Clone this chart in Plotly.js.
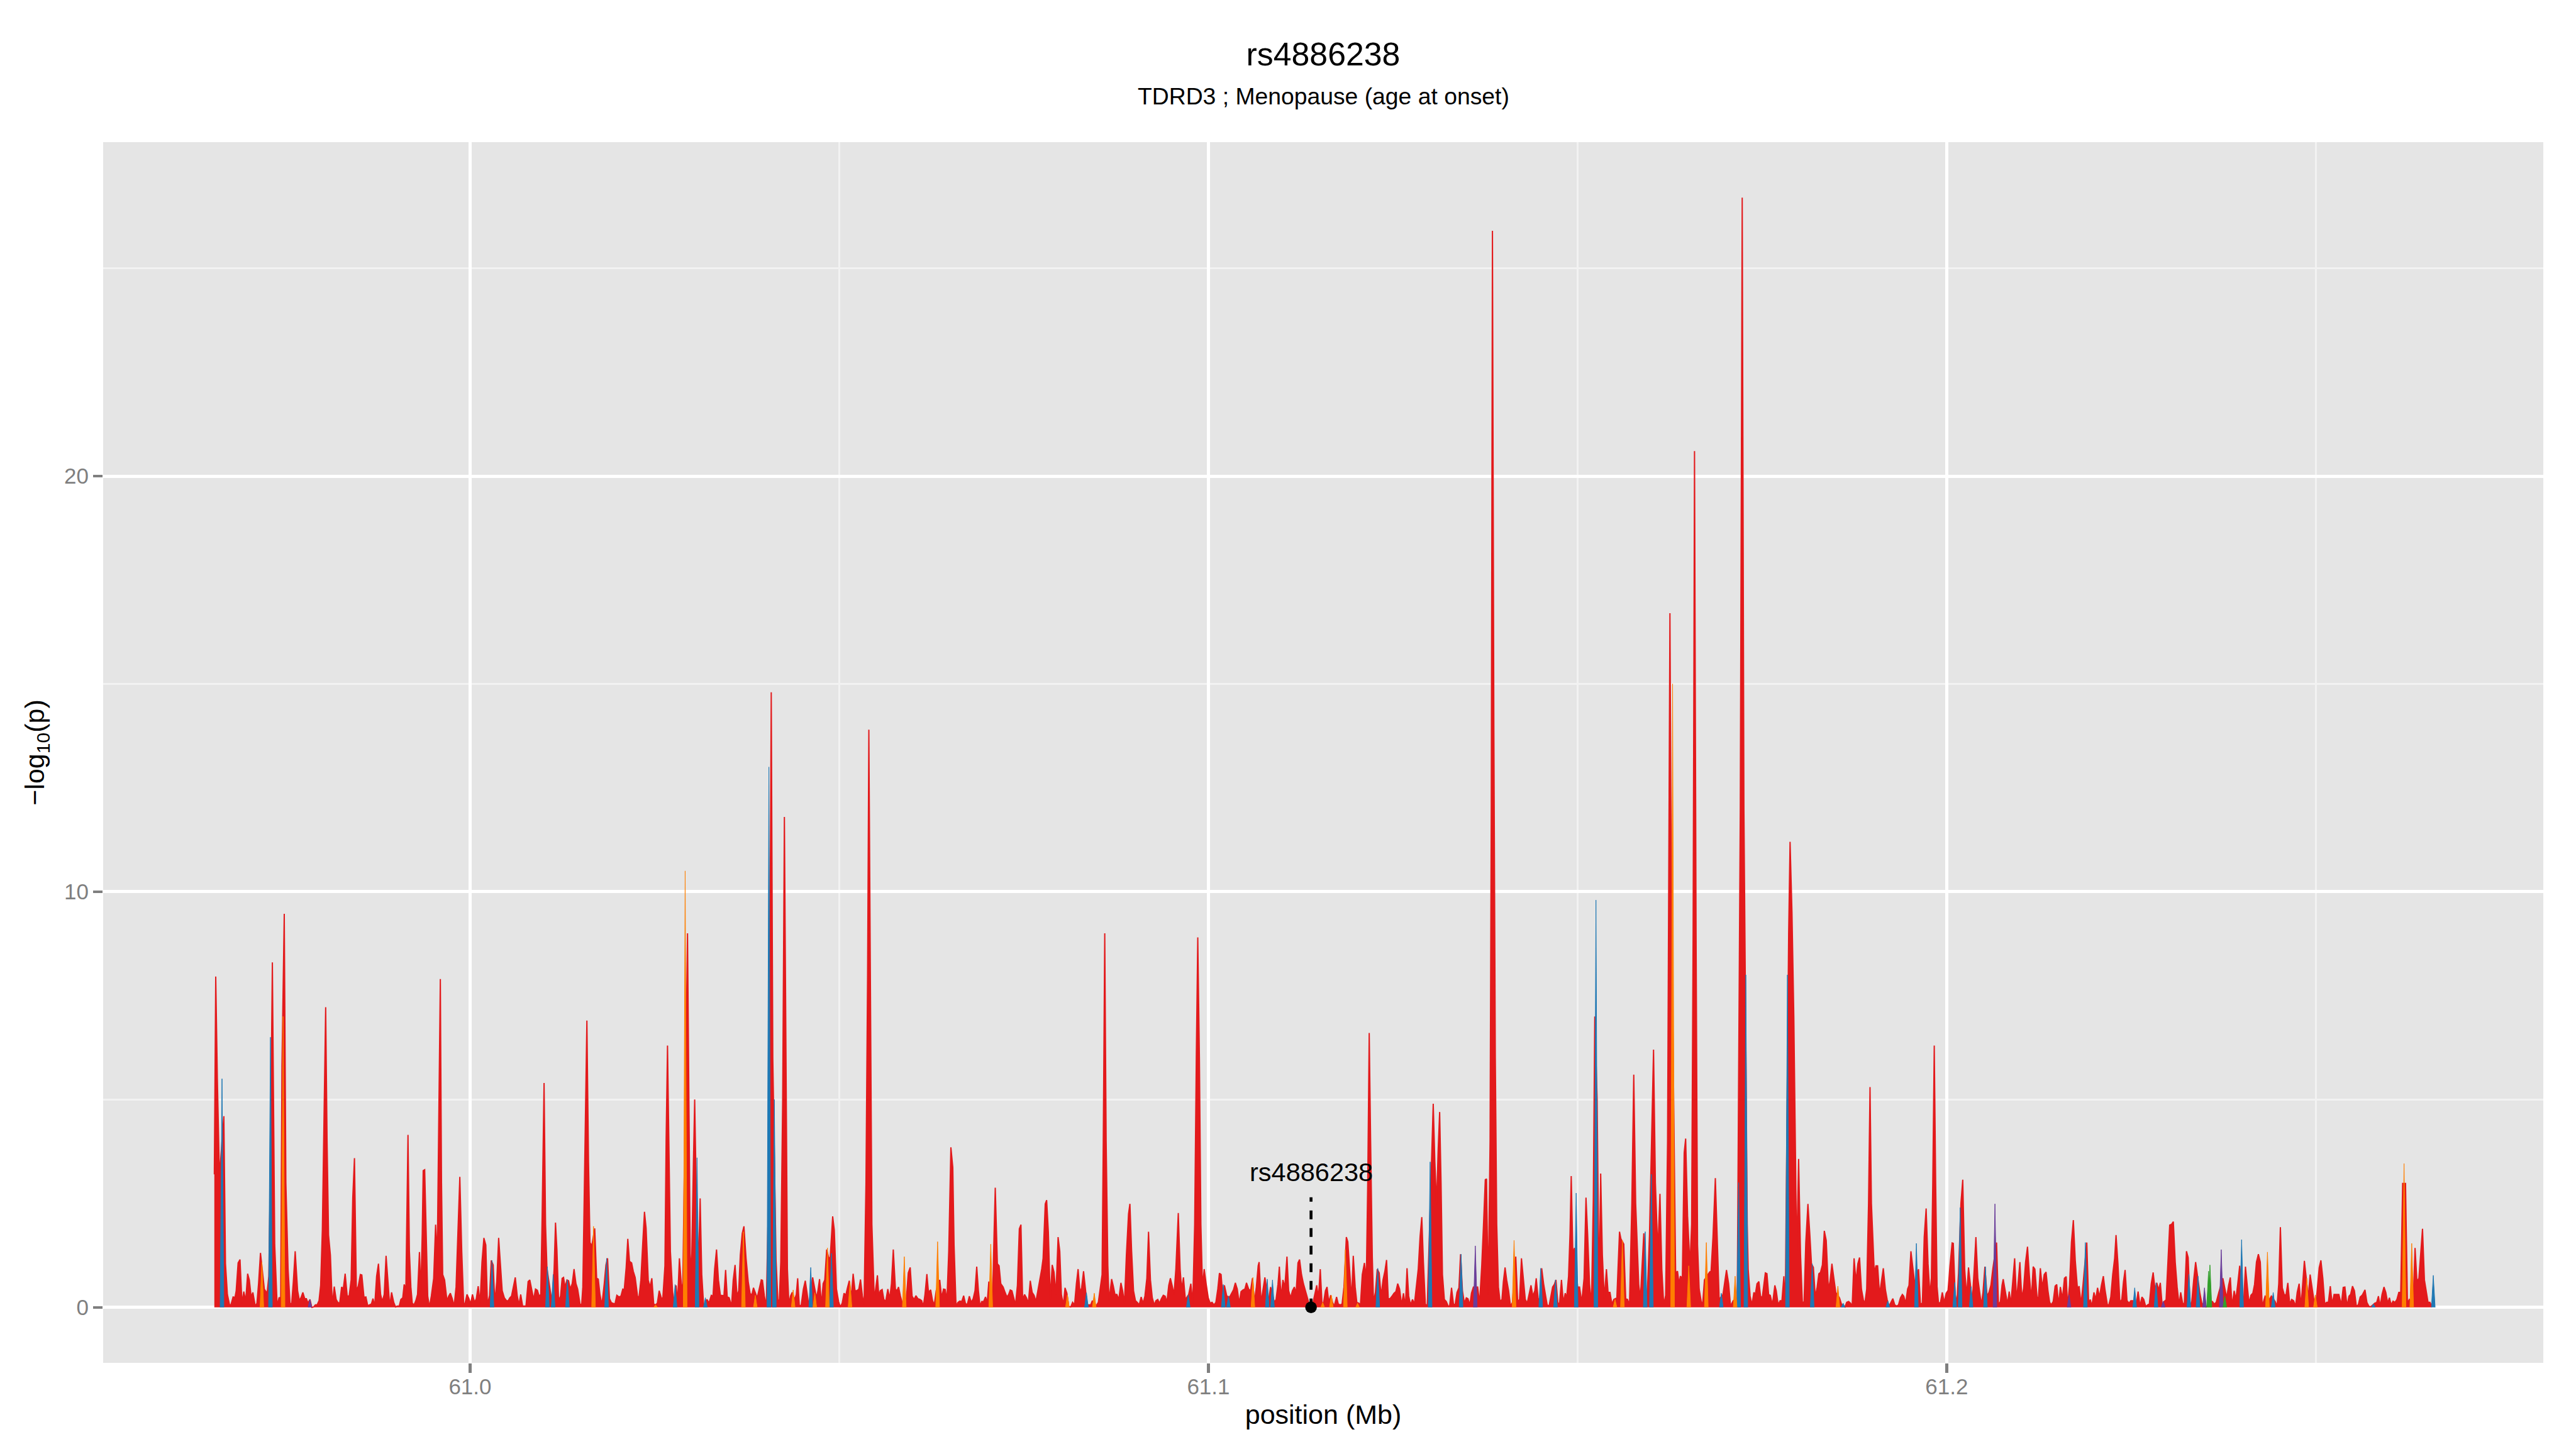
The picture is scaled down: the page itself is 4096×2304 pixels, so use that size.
<!DOCTYPE html>
<html><head><meta charset="utf-8">
<script src="https://cdn.plot.ly/plotly-3.0.1.min.js"></script>
<style>html,body{margin:0;padding:0;background:#fff;} #chart{width:4096px;height:2304px;}</style>
</head><body><div id="chart"></div>
<script>
// ---- data: SNP positions (Mb) and -log10(p), one area per LD colour ----
const redPos = [
60.96536,60.96555,60.96577,60.96605,60.96665,60.96687,60.96713,60.96742,60.96761,60.96790,60.96816,60.96832,60.96858,60.96884,60.96910,60.96935,60.96961,60.96987,60.97010,60.97035,
60.97058,60.97090,60.97113,60.97135,60.97161,60.97213,60.97251,60.97274,60.97290,60.97322,60.97354,60.97387,60.97412,60.97435,60.97452,60.97483,60.97505,60.97535,60.97561,60.97583,
60.97606,60.97631,60.97664,60.97689,60.97709,60.97735,60.97760,60.97783,60.97805,60.97831,60.97857,60.97880,60.97905,60.97928,60.97954,60.97976,60.97999,60.98025,60.98044,60.98063,
60.98083,60.98108,60.98134,60.98160,60.98186,60.98208,60.98234,60.98260,60.98282,60.98308,60.98337,60.98363,60.98389,60.98411,60.98434,60.98460,60.98485,60.98514,60.98534,60.98563,
60.98589,60.98614,60.98643,60.98663,60.98685,60.98708,60.98734,60.98759,60.98788,60.98811,60.98837,60.98862,60.98888,60.98911,60.98937,60.98966,60.98991,60.99014,60.99040,60.99062,
60.99088,60.99107,60.99130,60.99146,60.99159,60.99178,60.99198,60.99217,60.99240,60.99265,60.99288,60.99314,60.99333,60.99352,60.99365,60.99385,60.99404,60.99426,60.99449,60.99475,
60.99507,60.99533,60.99555,60.99578,60.99597,60.99613,60.99629,60.99655,60.99687,60.99710,60.99733,60.99758,60.99784,60.99810,60.99836,60.99861,60.99887,60.99913,60.99932,60.99958,
60.99984,61.00007,61.00032,61.00061,61.00084,61.00110,61.00135,61.00161,61.00187,61.00213,61.00235,61.00264,61.00287,61.00313,61.00335,61.00361,61.00387,61.00409,61.00435,61.00464,
61.00493,61.00516,61.00538,61.00561,61.00587,61.00612,61.00638,61.00661,61.00686,61.00712,61.00757,61.00786,61.00809,61.00835,61.00861,61.00886,61.00912,61.00935,61.00957,61.00976,
61.01002,61.01022,61.01041,61.01086,61.01112,61.01138,61.01157,61.01176,61.01199,61.01225,61.01247,61.01266,61.01286,61.01312,61.01334,61.01357,61.01383,61.01408,61.01434,61.01457,
61.01489,61.01511,61.01527,61.01553,61.01582,61.01604,61.01624,61.01649,61.01688,61.01714,61.01736,61.01759,61.01785,61.01817,61.01840,61.01862,61.01888,61.01914,61.01939,61.01962,
61.01988,61.02017,61.02043,61.02068,61.02088,61.02114,61.02136,61.02159,61.02188,61.02210,61.02236,61.02268,61.02288,61.02313,61.02339,61.02362,61.02384,61.02413,61.02436,61.02462,
61.02487,61.02513,61.02536,61.02561,61.02590,61.02610,61.02639,61.02655,61.02674,61.02694,61.02713,61.02742,61.02761,61.02790,61.02810,61.02835,61.02861,61.02880,61.02945,61.02984,
61.03003,61.03025,61.03042,61.03061,61.03093,61.03116,61.03138,61.03164,61.03209,61.03235,61.03267,61.03290,61.03312,61.03338,61.03364,61.03390,61.03412,61.03438,61.03461,61.03483,
61.03509,61.03541,61.03564,61.03589,61.03615,61.03638,61.03660,61.03686,61.03709,61.03738,61.03767,61.03792,61.03815,61.03838,61.03889,61.03915,61.03944,61.03960,61.03986,61.04012,
61.04034,61.04060,61.04079,61.04100,61.04144,61.04170,61.04189,61.04208,61.04234,61.04257,61.04279,61.04298,61.04318,61.04340,61.04363,61.04395,61.04418,61.04437,61.04460,61.04485,
61.04514,61.04540,61.04563,61.04588,61.04640,61.04692,61.04711,61.04733,61.04759,61.04782,61.04804,61.04830,61.04862,61.04878,61.04911,61.04933,61.04962,61.04991,61.05014,61.05040,
61.05065,61.05088,61.05111,61.05136,61.05162,61.05188,61.05214,61.05239,61.05265,61.05288,61.05314,61.05336,61.05362,61.05384,61.05401,61.05420,61.05442,61.05475,61.05497,61.05517,
61.05536,61.05555,61.05581,61.05604,61.05629,61.05658,61.05684,61.05707,61.05732,61.05761,61.05781,61.05803,61.05829,61.05855,61.05910,61.05935,61.05961,61.05987,61.06013,61.06039,
61.06064,61.06093,61.06116,61.06139,61.06161,61.06187,61.06209,61.06238,61.06264,61.06287,61.06313,61.06361,61.06387,61.06412,61.06435,61.06458,61.06483,61.06512,61.06538,61.06555,
61.06582,61.06607,61.06633,61.06659,61.06685,61.06711,61.06736,61.06762,61.06788,61.06814,61.06839,61.06862,61.06885,61.06907,61.06930,61.06955,61.06981,61.07004,61.07026,61.07078,
61.07097,61.07113,61.07142,61.07165,61.07188,61.07220,61.07246,61.07271,61.07294,61.07316,61.07339,61.07362,61.07387,61.07413,61.07439,61.07461,61.07484,61.07510,61.07536,61.07561,
61.07587,61.07613,61.07639,61.07664,61.07690,61.07716,61.07742,61.07761,61.07790,61.07809,61.07832,61.07858,61.07884,61.07909,61.07935,61.07964,61.07987,61.08009,61.08035,61.08058,
61.08083,61.08109,61.08135,61.08161,61.08187,61.08212,61.08235,61.08261,61.08283,61.08309,61.08335,61.08357,61.08380,61.08406,61.08428,61.08477,61.08509,61.08535,61.08560,61.08576,
61.08596,61.08615,61.08638,61.08654,61.08689,61.08712,61.08734,61.08760,61.08786,61.08815,61.08838,61.08863,61.08889,61.08918,61.08937,61.08960,61.08986,61.09012,61.09037,61.09063,
61.09089,61.09115,61.09140,61.09166,61.09189,61.09215,61.09240,61.09266,61.09289,61.09314,61.09337,61.09363,61.09389,61.09414,61.09437,61.09463,61.09485,61.09508,61.09534,61.09559,
61.09592,61.09617,61.09637,61.09662,61.09688,61.09733,61.09762,61.09788,61.09814,61.09836,61.09856,61.09878,61.09898,61.09920,61.09943,61.09969,61.09998,61.10023,61.10049,61.10075,
61.10101,61.10127,61.10149,61.10172,61.10194,61.10217,61.10249,61.10288,61.10313,61.10339,61.10365,61.10391,61.10417,61.10442,61.10468,61.10494,61.10516,61.10545,61.10571,61.10597,
61.10623,61.10649,61.10674,61.10687,61.10713,61.10739,61.10765,61.10813,61.10842,61.10894,61.10916,61.10942,61.10961,61.10984,61.11009,61.11035,61.11064,61.11087,61.11113,61.11138,
61.11164,61.11187,61.11213,61.11235,61.11261,61.11287,61.11312,61.11345,61.11377,61.11415,61.11441,61.11467,61.11490,61.11515,61.11538,61.11559,61.11585,61.11607,61.11630,61.11656,
61.11681,61.11704,61.11736,61.11759,61.11785,61.11810,61.11836,61.11868,61.11888,61.11913,61.11939,61.11962,61.11988,61.12010,61.12036,61.12059,61.12084,61.12113,61.12139,61.12158,
61.12178,61.12197,61.12220,61.12236,61.12262,61.12287,61.12313,61.12339,61.12365,61.12390,61.12413,61.12436,61.12461,61.12487,61.12513,61.12539,61.12564,61.12590,61.12616,61.12642,
61.12668,61.12690,61.12713,61.12738,61.12764,61.12790,61.12816,61.12842,61.12867,61.12890,61.12912,61.12938,61.12964,61.12990,61.13025,61.13045,61.13067,61.13090,61.13112,61.13132,
61.13151,61.13170,61.13196,61.13222,61.13248,61.13267,61.13293,61.13319,61.13341,61.13367,61.13393,61.13415,61.13441,61.13467,61.13493,61.13515,61.13541,61.13563,61.13589,61.13647,
61.13673,61.13702,61.13725,61.13750,61.13767,61.13789,61.13815,61.13831,61.13847,61.13866,61.13886,61.13905,61.13928,61.13950,61.13976,61.13995,61.14018,61.14040,61.14066,61.14092,
61.14118,61.14163,61.14189,61.14214,61.14240,61.14266,61.14292,61.14318,61.14343,61.14369,61.14395,61.14421,61.14440,61.14466,61.14492,61.14514,61.14540,61.14566,61.14588,61.14614,
61.14637,61.14662,61.14685,61.14707,61.14733,61.14756,61.14782,61.14807,61.14833,61.14852,61.14878,61.14898,61.14914,61.14936,61.14959,61.15001,61.15027,61.15056,61.15088,61.15114,
61.15136,61.15162,61.15188,61.15213,61.15233,61.15265,61.15291,61.15313,61.15336,61.15362,61.15391,61.15413,61.15439,61.15465,61.15491,61.15532,61.15568,61.15587,61.15626,61.15652,
61.15677,61.15703,61.15735,61.15761,61.15787,61.15829,61.15851,61.15877,61.15897,61.15929,61.15948,61.15974,61.16029,61.16054,61.16087,61.16116,61.16141,61.16167,61.16193,61.16219,
61.16238,61.16251,61.16270,61.16309,61.16328,61.16354,61.16374,61.16393,61.16419,61.16444,61.16464,61.16490,61.16522,61.16545,61.16565,61.16584,61.16605,61.16625,61.16647,61.16673,
61.16692,61.16718,61.16763,61.16789,61.16808,61.16834,61.16866,61.16892,61.16918,61.16969,61.16995,61.17017,61.17046,61.17072,61.17108,61.17163,61.17204,61.17230,61.17253,61.17298,
61.17311,61.17337,61.17362,61.17388,61.17407,61.17430,61.17456,61.17478,61.17501,61.17520,61.17543,61.17565,61.17588,61.17610,61.17639,61.17672,61.17691,61.17717,61.17743,61.17768,
61.17794,61.17813,61.17859,61.17878,61.17904,61.17929,61.17955,61.17968,61.17994,61.18020,61.18045,61.18068,61.18091,61.18120,61.18145,61.18168,61.18194,61.18220,61.18245,61.18268,
61.18290,61.18316,61.18342,61.18368,61.18397,61.18419,61.18445,61.18471,61.18497,61.18548,61.18574,61.18622,61.18645,61.18671,61.18697,61.18719,61.18745,61.18771,61.18796,61.18819,
61.18845,61.18870,61.18890,61.18916,61.18941,61.18961,61.18980,61.19019,61.19041,61.19064,61.19090,61.19115,61.19141,61.19170,61.19193,61.19219,61.19244,61.19270,61.19296,61.19322,
61.19347,61.19373,61.19399,61.19418,61.19444,61.19470,61.19489,61.19515,61.19541,61.19567,61.19618,61.19644,61.19670,61.19695,61.19721,61.19747,61.19773,61.19792,61.19811,61.19831,
61.19850,61.19869,61.19889,61.19915,61.19940,61.19966,61.19992,61.20018,61.20044,61.20073,61.20089,61.20114,61.20137,61.20160,61.20192,61.20217,61.20243,61.20269,61.20295,61.20321,
61.20346,61.20372,61.20395,61.20421,61.20443,61.20469,61.20491,61.20517,61.20546,61.20572,61.20598,61.20624,61.20675,61.20701,61.20727,61.20749,61.20765,61.20798,61.20823,61.20846,
61.20868,61.20894,61.20920,61.20946,61.20968,61.20991,61.21017,61.21042,61.21068,61.21094,61.21120,61.21146,61.21171,61.21194,61.21223,61.21242,61.21268,61.21294,61.21320,61.21345,
61.21371,61.21394,61.21416,61.21442,61.21468,61.21490,61.21516,61.21539,61.21568,61.21594,61.21618,61.21637,61.21663,61.21689,61.21715,61.21741,61.21771,61.21793,61.21819,61.21845,
61.21897,61.21923,61.21943,61.21965,61.21994,61.22017,61.22043,61.22069,61.22095,61.22121,61.22144,61.22176,61.22196,61.22222,61.22248,61.22274,61.22293,61.22319,61.22345,61.22371,
61.22394,61.22416,61.22442,61.22468,61.22494,61.22520,61.22566,61.22592,61.22618,61.22644,61.22669,61.22695,61.22721,61.22744,61.22770,61.22796,61.22822,61.22845,61.22871,61.22893,
61.22919,61.22945,61.22971,61.22997,61.23020,61.23046,61.23069,61.23095,61.23121,61.23147,61.23169,61.23195,61.23218,61.23247,61.23270,61.23296,61.23319,61.23345,61.23371,61.23429,
61.23455,61.23513,61.23598,61.23624,61.23650,61.23685,61.23740,61.23792,61.23818,61.23841,61.23864,61.23893,61.23916,61.23942,61.23968,61.24020,61.24046,61.24072,61.24094,61.24120,
61.24146,61.24169,61.24195,61.24221,61.24247,61.24273,61.24312,61.24370,61.24396,61.24448,61.24474,61.24497,61.24519,61.24545,61.24571,61.24594,61.24620,61.24646,61.24672,61.24698,
61.24724,61.24747,61.24773,61.24799,61.24821,61.24844,61.24870,61.24896,61.24922,61.24945,61.24974,61.25000,61.25026,61.25045,61.25068,61.25094,61.25120,61.25146,61.25169,61.25195,
61.25220,61.25246,61.25272,61.25311,61.25344,61.25370,61.25393,61.25422,61.25448,61.25470,61.25496,61.25522,61.25548,61.25574,61.25600,61.25626,61.25665,61.25691,61.25720,61.25746,
61.25798,61.25824,61.25847,61.25870,61.25896,61.25922,61.25947,61.25973,61.25996,61.26019,61.26045,61.26071,61.26097,61.26123,61.26149,61.26175,61.26214,61.26240,61.26265,61.26317,
61.26343,61.26369,61.26395,61.26421,61.26444,61.26470,61.26493,61.26519,61.26545,61.26571
];
const redLogP = [
3.2,7.96,5.5,3.16,4.6,1.05,0.31,0.06,0.06,0.25,0.24,0.4,1.07,1.15,0.1,0.38,0.16,0.81,0.66,0.25,
0.36,0.03,0.1,0.57,1.31,0.44,0.34,0.75,2.64,8.3,1.5,0.03,0.23,0.24,5.8,9.47,3.0,0.92,0.1,0.08,
0.62,1.35,0.4,0.16,0.23,0.36,0.21,0.21,0.1,0.19,0,0.01,0.06,0.06,0.16,0.53,1.86,5.0,7.22,4.0,
1.74,1.26,0.06,0.5,0.19,0.12,0.1,0.49,0.44,0.81,0.25,0.29,0.66,2.64,3.59,0.4,0.51,0.79,0.78,0.24,
0.25,0.04,0.06,0.08,0.21,0.03,0.75,1.05,0.31,0.14,0.31,1.24,0.62,0.03,0.36,0.12,0.01,0.03,0.03,0.19,
0.23,0.55,0.44,2.64,4.15,1.35,0.49,0.1,0.06,0.16,0.31,1.33,0.36,1.78,3.29,3.31,1.78,0.27,0.01,0.27,
0.70,1.99,1.18,4.5,7.9,3.0,0.79,0.66,0.16,0.27,0.34,0.21,0.03,0.49,1.95,3.14,1.35,0.08,0.1,0.31,
0.21,0.08,0.31,0.12,0.21,0.51,0.1,1.09,1.67,1.5,0.06,0.29,1.13,1.02,0.12,0.62,1.67,1.05,0.4,0.23,
0.16,0.16,0.23,0.27,0.53,0.72,0.29,0.06,0.31,0.03,0.03,0.62,0.66,0.44,0.19,0.44,0.41,0.27,0.31,2.21,
5.4,2.0,0.94,0.4,0.1,0.92,2.04,1.39,0.16,0.27,0.7,0.72,0.49,0.66,0.64,0.44,0.57,0.92,0.57,0.44,
0.08,0.06,0.49,3.5,6.9,3.5,1.56,1.48,1.9,0.70,0.68,0.31,0.06,0.57,1.02,1.18,0.21,0.11,0.1,0.08,
0.29,0.25,0.27,0.44,0.43,0.96,1.65,1.11,1.07,0.87,0.72,0.27,0.24,0.66,1.56,2.30,1.91,0.66,0.49,0.7,
0.08,0.06,0.1,0.4,0.23,0.21,1.0,4.0,6.3,3.5,1.35,0.4,0.1,0.53,0.12,1.18,0.57,0.4,9.0,0.7,
1.3,3.5,5.0,3.0,1.0,2.62,0.79,0.03,0.19,0.1,0.29,0.27,0.92,1.39,0.66,0.29,0.29,0.28,0.9,0.25,
0.23,0.03,0.66,1.02,0.27,0.4,1.26,1.78,1.95,1.18,0.62,0.34,0.29,0.47,0.23,0.44,0.66,0.65,0.27,0.03,
2.0,8.0,14.8,6.0,1.13,0.12,0.19,1.09,5.0,11.8,5.0,0.92,0.08,0.27,0.36,0.19,0.31,0.7,0.02,0.06,
0.44,0.64,0.36,0.03,0.72,0.23,0.4,0.68,0.06,0.57,0.66,1.39,1.15,1.22,2.19,1.86,0.44,0.14,0.01,0.1,
0.34,0.29,0.47,0.64,0.23,0.81,0.4,0.4,0.44,0.67,0.27,0.06,3.0,8.0,13.9,8.0,2.0,0.19,0.49,0.77,
0.27,0.4,0.43,0.19,0.14,0.44,0.21,0.57,1.39,0.44,0.4,0.49,0.27,0.1,0.23,0.83,0.96,0.27,0.19,0.28,
0.21,0.19,0.16,0.03,0.31,0.8,0.36,0.42,0.16,0.06,0.4,0.66,0.23,0.44,0.43,0.16,1.35,3.85,3.37,1.5,
0.03,0.12,0.15,0.14,0.28,0.08,0.08,0.27,0.12,0.21,0.4,0.98,0.4,0.03,0.14,0.14,0.25,0.12,0.62,0.31,
1.78,2.88,1.05,1.0,0.57,0.49,0.36,0.25,0.31,0.42,0.4,0.25,0.06,0.53,1.89,1.99,0.19,0.31,0.23,0.1,
0.64,0.36,0.29,0.14,0.4,0.68,0.92,1.18,2.49,2.58,1.82,0.19,1.02,0.85,0.31,1.69,1.35,0.31,0.06,0.47,
0.34,0.02,0.01,0.12,0.06,0.57,0.92,0.36,0.47,0.87,0.4,0.06,0.06,0.06,0.16,0.03,0.12,0.44,0.79,4.0,
9.0,4.0,1.0,0.16,0.68,0.51,0.31,0.31,0.19,0.59,0.4,0.1,1.26,2.25,2.49,1.35,0.4,0.16,0.12,0.06,
0.25,0.1,0.27,0.7,1.82,0.66,0.23,0.06,0.16,0.19,0.1,0.21,0.29,0.27,0.12,0.53,0.7,0.53,0.31,0.92,
2.27,0.92,0.44,0.72,0.19,0.31,0.57,0.1,2.0,6.0,8.9,6.0,2.0,0.49,0.92,0.57,0.23,0.1,0.12,0.06,
0.12,0.44,0.82,0.79,0.27,0.53,0.27,0.25,0.34,0.42,0.59,0.44,0.1,0.38,0.42,0.44,0.59,0.44,0.4,0.7,
0.12,0.49,1.0,1.09,0.12,0.44,0.72,0.14,0.49,0.12,0.19,0.55,0.98,0.23,0.66,0.49,1.22,0.4,0.23,0.4,
0.49,0.34,1.07,1.15,0.79,0.57,0.42,0.19,0,0.1,0.31,0.53,0.23,0.92,0.12,0.1,0.4,0.49,0.12,0.29,
0.12,0.03,0.25,0.08,0.06,0.08,0.49,1.69,1.58,0.96,0.19,1.24,0.49,0.12,0.1,0.06,0.79,1.07,0.7,3.0,
6.6,4.0,1.2,0.14,0.36,0.92,0.83,0.27,0.66,0.87,1.14,0.21,0.21,0.27,0.34,0.38,0.57,0.44,0.06,0.34,
0.03,0.94,0.27,0.06,0.19,0.08,0.49,0.92,1.71,2.17,1.09,0.08,0.03,1.5,3.5,4.9,3.5,2.47,3.8,4.7,
3.0,0.79,0.19,0.14,0.03,0.03,0.47,0.08,0.06,0.36,0.47,1.28,0.4,0.1,0.23,0.21,0.06,0.34,0.49,0.49,
0.1,1.0,1.95,3.07,3.09,0.31,4.0,12.0,25.9,14.0,6.0,2.0,0.49,0.14,0.19,0.62,0.96,0.66,0.4,0.03,
0.12,1.22,0.14,0.19,1.18,0.66,0.19,0.1,0.29,0.53,0.27,0.4,0.7,0.21,0.19,0.94,0.57,0.29,0.06,0.03,
0.25,0.49,0.55,0.66,0.1,0.1,0.66,0.12,0.34,0.23,0.75,1.78,3.16,1.3,1.43,0.49,0.49,0.12,0.7,2.64,
1.78,0.57,0.06,2.6,7.0,5.0,0.4,3.22,1.26,0.21,0.92,0.36,0.36,0.08,0.19,0.23,1.82,1.65,1.52,0.21,
0.19,0.06,2.5,5.6,2.5,0.53,0.23,1.0,1.78,0.1,0.49,1.74,6.2,3.0,1.35,2.73,0.92,0.06,0.29,4.0,
12.0,16.7,10.0,4.0,0.83,0.87,0.57,0.75,0.7,3.72,4.06,2.2,1.0,2.0,9.0,20.6,9.0,1.5,0.44,0.16,
0.03,0.66,0.79,0.85,0.87,1.69,3.11,1.78,0.19,0.31,0.62,0.9,0.57,0.03,0.16,0.23,12.0,26.7,12.0,2.0,
0.92,0.27,0.06,0.36,0.31,0.57,0.62,0.27,0.23,0.49,0.83,0.81,0.31,0.29,0.06,0.53,0.4,0.06,0.16,0.16,
0.75,0.03,9.0,11.2,9.5,7.0,3.0,1.22,3.57,1.26,0.1,0.14,1.56,2.49,1.78,1.05,0.96,0.25,0.49,0.81,
0.84,1.02,1.84,1.61,0.44,0.62,1.05,0.7,0.36,0.23,0.08,0.01,0.12,0.14,0.1,0.03,1.18,0.62,1.05,1.2,
0.44,0.19,0.08,0.44,2.5,5.3,2.5,0.83,1.0,1.0,0.31,0.62,0.94,0.42,0.19,0.03,0.12,0.21,0.06,0.03,
0.06,0.23,0.31,0.27,0.1,0.44,0.53,1.35,0.96,0.57,0.92,0.08,0.1,1.69,2.38,1.05,0.29,0.7,3.0,6.3,
3.0,0.5,0.1,0.12,0.36,0.12,0.34,0.41,1.0,1.55,1.54,0.31,0.1,0.83,2.5,3.07,0.92,0.27,0.96,0.57,
0.14,0.92,1.69,0.7,0.4,0.06,0.36,0.98,0.27,0.36,0.53,0.92,1.56,0.06,0.14,0.53,0.68,0.31,0.08,0.38,
0.08,0.62,1.18,0.16,0.57,1.09,0.21,0.47,1.09,1.46,0.75,0.19,0.98,0.92,0.25,0.23,0.94,0.47,0.79,0.85,
0.4,0.12,0.06,0.14,0.51,0.55,0.06,0.49,0.21,0.7,0.74,0.03,0.53,1.56,2.1,1.13,0.44,0.51,0.08,0.53,
1.56,0.06,0.19,0.03,0.36,0.19,0.47,0.25,0.53,0.75,0.42,0.06,0.06,0.25,0.79,1.18,1.74,1.05,0.12,0.19,
0.62,0.9,0.16,0.1,0.16,0.16,0.06,0.38,0.03,0.25,0.19,0.02,0.06,0.08,0.57,0.84,0.42,0.59,0.42,0.59,
0.03,0.14,0.18,1.18,1.98,2.0,2.06,1.09,0.49,0.06,0.36,0.1,0.08,1.35,1.2,0.03,0.14,0.66,1.09,0.34,
0.1,0.01,0.14,0.08,0.12,0.36,0.7,0.23,0.53,0.72,0.03,0.4,0.19,0.57,1.0,0.06,0.98,0.49,0.1,0.29,
0.34,0.55,1.09,1.28,1.09,0.03,0.27,0.19,0.27,0.14,0.03,0.57,1.93,0.47,0.31,0.29,0.59,0.08,0.19,0.16,
0.03,0.36,0.57,0.03,0.57,1.12,0.7,0.23,0.79,0.53,0.16,0.06,0.62,0.96,1.13,0.7,0.08,0.12,0.12,0.51,
0.08,0.31,0.31,0.31,0.06,0.48,0.49,0.03,0.27,0.31,0.51,0.4,0.03,0.06,0.25,0.29,0.42,0.12,0.02,0.02,
0.1,0.12,0.27,0.03,0.31,0.49,0.36,0.1,0.23,0.06,0.15,0.12,0.19,0.36,0.36,2.98,2.98,0.1,0.19,0.1,
1.43,0.62,0.7,1.35,1.89,0.66,0.4,0.12,0.12,0.02
];
const bluePos = [60.96640,60.97296,61.00297,61.01047,61.01125,61.01318,61.01849,61.02777,61.03074,61.03187,61.04047,61.04121,61.04614,61.04895,61.08348,61.09727,61.10201,61.10272,61.10797,61.10868,61.12294,61.13003,61.13422,61.14501,61.14701,61.14981,61.15249,61.15916,61.16000,61.16947,61.17182,61.17279,61.17842,61.18178,61.18597,61.19202,61.19589,61.20108,61.20182,61.20330,61.20524,61.21878,61.22546,61.22835,61.23280,61.23403,61.23994,61.24422,61.25779,61.26590];
const blueLogP = [5.5,6.5,1.13,0.98,0.79,0.66,1.18,0.55,3.6,0.23,13.0,5.0,0.96,1.3,0.35,0.3,0.55,0.27,0.68,0.66,0.94,3.5,1.28,0.94,0.66,2.75,9.8,1.82,3.2,0.34,3.0,8.0,8.0,1.05,0.1,0.15,1.54,0.6,2.4,0.5,0.98,1.56,0.47,0.59,0.8,0.75,1.63,0.36,0.08,0.77];
const orangePos = [60.97180,60.97467,61.01672,61.02513,61.02913,61.03702,61.03863,61.04376,61.04669,61.04840,61.05146,61.05881,61.06332,61.07052,61.08090,61.08454,61.10603,61.11548,61.11665,61.11855,61.12020,61.14140,61.15507,61.15607,61.16287,61.16506,61.16744,61.17134,61.18526,61.24344,61.24876,61.24993,61.26194,61.26298];
const orangeLogP = [1.09,7.0,1.95,0.06,10.5,1.82,0.29,0.42,0.35,1.43,0.6,1.22,1.58,1.52,0.3,0.34,0.72,0.12,0.29,1.39,0.1,1.61,0.19,1.61,15.0,1.0,1.56,0.75,0.51,1.33,0.7,0.3,3.46,1.54];
const purplePos = [60.97831,61.13615,61.20653,61.21657,61.22932,61.23491,61.23718];
const purpleLogP = [0.19,1.48,2.49,0.3,0.15,0.47,1.39];
const greenPos = [61.23546,61.23565,61.23766];
const greenLogP = [0.87,1.02,0.27];

const snpName = 'rs4886238';
const snpPos = 61.1139;
const snpLabelY = 3.25;
const snpLineTop = 2.65;
const chartTitle = 'rs4886238';
const chartSubtitle = 'TDRD3 ; Menopause (age at onset)';
const xTitle = 'position (Mb)';
const yTitle = '\u2212log<sub>10</sub>(p)';
const xTickVals = [61.0, 61.1, 61.2];
const xTickText = ['61.0', '61.1', '61.2'];
const xMinorVals = [61.05, 61.15, 61.25];
const yTickVals = [0, 10, 20];
const yTickText = ['0', '10', '20'];
const yMinorVals = [5, 15, 25];

// ---- styling ----
const FONT = 'Liberation Sans, Arial, Helvetica, sans-serif';
const COL = {red:'#E31A1C', blue:'#1F78B4', orange:'#FF7F00', purple:'#6A3D9A', green:'#33A02C'};
const HALF_W = 0.00025; // half base width of a single-SNP spike, in Mb

function spikeTrace(pos, val, color) {
  const x = [], y = [];
  pos.forEach((p, i) => { x.push(p - HALF_W, p, p + HALF_W, null); y.push(0, val[i], 0, null); });
  return {type:'scatter', mode:'lines', x, y, fill:'toself', fillcolor:color,
          line:{color:color, width:1}, connectgaps:false, hoverinfo:'skip'};
}

const traces = [
  {type:'scatter', mode:'lines', x:redPos, y:redLogP, fill:'tozeroy', fillcolor:COL.red,
   line:{color:COL.red, width:2}, hoverinfo:'skip'},
  spikeTrace(bluePos, blueLogP, COL.blue),
  spikeTrace(orangePos, orangeLogP, COL.orange),
  spikeTrace(purplePos, purpleLogP, COL.purple),
  spikeTrace(greenPos, greenLogP, COL.green),
  {type:'scatter', mode:'lines', x:[snpPos, snpPos], y:[0, snpLineTop],
   line:{color:'#000000', width:4.6, dash:'14px,14px'}, hoverinfo:'skip'},
  {type:'scatter', mode:'markers', x:[snpPos], y:[0],
   marker:{color:'#000000', size:18.5}, hoverinfo:'skip'}
];

const W = 4096, H = 2304;
const margin = {l:164, r:52, t:226, b:136.5, pad:0};
const plotH = H - margin.t - margin.b;

const axisCommon = {
  ticks:'outside', ticklen:15, tickwidth:4.3, tickcolor:'#7F7F7F',
  tickfont:{family:FONT, size:35, color:'#7F7F7F'},
  showgrid:true, gridcolor:'#FFFFFF', gridwidth:5,
  zeroline:false, showline:false, automargin:false, fixedrange:true
};

const layout = {
  width:W, height:H, margin:margin,
  paper_bgcolor:'#FFFFFF', plot_bgcolor:'#E5E5E5',
  showlegend:false,
  font:{family:FONT, color:'#000000'},
  title:{text:chartTitle, font:{family:FONT, size:51.8, color:'#000000'},
         x:0.5, xref:'paper', xanchor:'center', y:1 - 86/H, yref:'container', yanchor:'middle'},
  xaxis:Object.assign({}, axisCommon, {
    range:[60.9503, 61.2808], tickmode:'array', tickvals:xTickVals, ticktext:xTickText,
    ticklabelstandoff:-8,
    minor:{tickmode:'array', tickvals:xMinorVals, showgrid:true, gridcolor:'#F2F2F2', gridwidth:2.5, ticks:''},
    title:{text:xTitle, font:{family:FONT, size:43, color:'#000000'}, standoff:10}
  }),
  yaxis:Object.assign({}, axisCommon, {
    range:[-1.335, 28.035], tickmode:'array', tickvals:yTickVals, ticktext:yTickText,
    minor:{tickmode:'array', tickvals:yMinorVals, showgrid:true, gridcolor:'#F2F2F2', gridwidth:2.5, ticks:''},
    title:{text:yTitle, font:{family:FONT, size:43, color:'#000000'}, standoff:18}
  }),
  annotations:[
    {text:chartSubtitle, xref:'paper', yref:'paper', x:0.5, y:1 + (margin.t - 153)/plotH,
     xanchor:'center', yanchor:'middle', showarrow:false, font:{family:FONT, size:37.3, color:'#000000'}},
    {text:snpName, xref:'x', yref:'y', x:snpPos, y:snpLabelY, xanchor:'center', yanchor:'middle',
     showarrow:false, font:{family:FONT, size:41.5, color:'#000000'}}
  ]
};

Plotly.newPlot('chart', traces, layout, {displayModeBar:false, staticPlot:true});
</script>
</body></html>
